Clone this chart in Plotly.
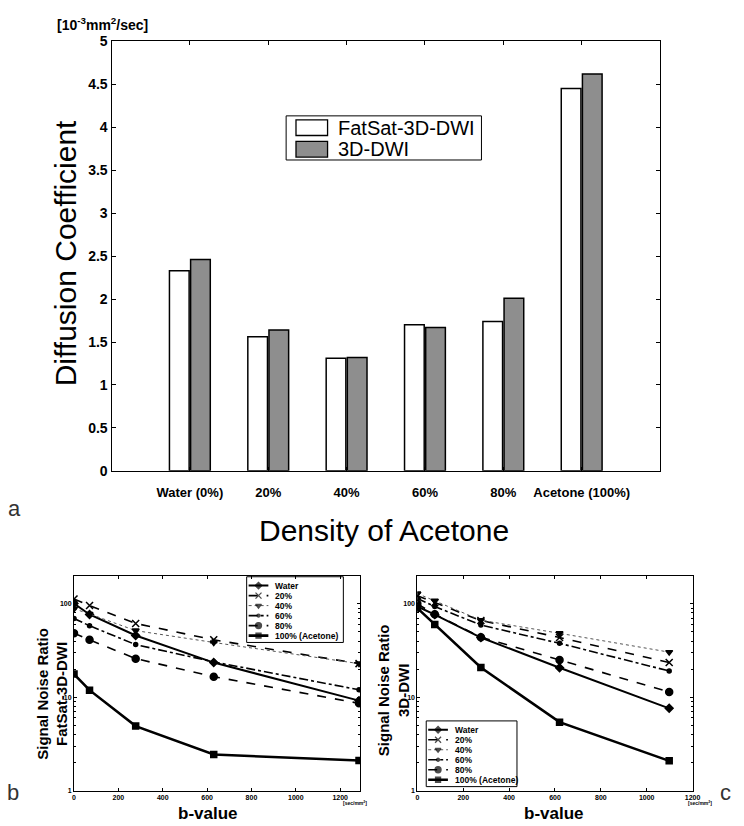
import plotly.graph_objects as go

# ---------------- data ----------------
categories = ["Water (0%)", "20%", "40%", "60%", "80%", "Acetone (100%)"]
fatsat_dc = [2.33, 1.56, 1.31, 1.70, 1.74, 4.45]
dwi_dc = [2.46, 1.64, 1.32, 1.67, 2.01, 4.62]
bar_names = ["FatSat-3D-DWI", "3D-DWI"]

b_values_fatsat = [0, 70, 278, 630, 1285]
b_values_dwi = [0, 76, 277, 620, 1098]
series_names = ["Water", "20%", "40%", "60%", "80%", "100% (Acetone)"]

snr_fatsat_water = [101, 77, 45.8, 23.5, 9.2]
snr_fatsat_20 = [113, 96, 61.7, 41.2, 22.9]
snr_fatsat_40 = [88.6, 78, 51.7, 38.6, 22.9]
snr_fatsat_60 = [69.6, 58.3, 36.6, 23.9, 12.0]
snr_fatsat_80 = [48.5, 41.2, 25.9, 16.6, 8.6]
snr_fatsat_100 = [17.7, 11.9, 4.9, 2.43, 2.1]

snr_dwi_water = [93.8, 76.7, 43.6, 20.7, 7.6]
snr_dwi_20 = [122, 103, 66.3, 43.6, 23.5]
snr_dwi_40 = [129, 108, 66.8, 48.4, 30.4]
snr_dwi_60 = [114, 93.8, 59.3, 37.8, 19.1]
snr_dwi_80 = [100, 77.3, 44.0, 25.1, 11.4]
snr_dwi_100 = [90, 60.2, 20.8, 5.4, 2.08]

W, H = 744, 826
def px_x(p): return p / W
def px_y(p): return 1 - p / H

FONT = "Liberation Sans, Arial, sans-serif"
BAR_COLORS = ["white", "#8e8e8e"]

fig = go.Figure()

# ---------------- panel a ----------------
for name, vals, col in zip(bar_names, [fatsat_dc, dwi_dc], BAR_COLORS):
    fig.add_trace(go.Bar(x=categories, y=vals, name=name, showlegend=False,
                         marker=dict(color=col, line=dict(color="black", width=1.5)),
                         xaxis="x", yaxis="y"))

# ---------------- panels b, c ----------------
styles = [
    dict(dash="solid", width=2, color="black", symbol="diamond", size=6),
    dict(dash="dash", width=1.6, color="black", symbol="x-thin-open", size=7),
    dict(dash="dot", width=1, color="#555555", symbol="triangle-down", size=6),
    dict(dash="dashdot", width=1.6, color="black", symbol="circle", size=4),
    dict(dash="dash", width=1.6, color="black", symbol="circle", size=7),
    dict(dash="solid", width=2.6, color="black", symbol="square", size=6),
]
fatsat_sets = [snr_fatsat_water, snr_fatsat_20, snr_fatsat_40, snr_fatsat_60, snr_fatsat_80, snr_fatsat_100]
dwi_sets = [snr_dwi_water, snr_dwi_20, snr_dwi_40, snr_dwi_60, snr_dwi_80, snr_dwi_100]

def add_series(bvals, sets, xa, ya):
    for name, ys, st in zip(series_names, sets, styles):
        fig.add_trace(go.Scatter(x=bvals, y=ys, name=name, mode="lines+markers", showlegend=False,
                                 line=dict(color=st["color"], width=st["width"], dash=st["dash"]),
                                 marker=dict(symbol=st["symbol"], size=st["size"], color="black",
                                             line=dict(color="black", width=1.5)),
                                 xaxis=xa, yaxis=ya))

add_series(b_values_fatsat, fatsat_sets, "x2", "y2")
add_series(b_values_dwi, dwi_sets, "x3", "y3")

# ---------------- compact legends for b, c (hidden helper axes) ----------------
LEG_ROW0, LEG_ROW_H = 9, 10.2
LEG_LINE = (2, 12, 22)
LEG_TEXT_X = 27
annotations = []

def add_legend(xa, ya):
    for i, (name, st) in enumerate(zip(series_names, styles)):
        row = LEG_ROW0 + i * LEG_ROW_H
        fig.add_trace(go.Scatter(
            x=list(LEG_LINE), y=[row] * 3, mode="lines+markers", showlegend=False, hoverinfo="skip",
            line=dict(color=st["color"], width=st["width"], dash=st["dash"]),
            marker=dict(symbol=st["symbol"], size=[0, st["size"] - 1, 0], color="black",
                        line=dict(color="black", width=[0, 1.3, 0])),
            xaxis=xa, yaxis=ya))
        annotations.append(dict(text=name, x=LEG_TEXT_X, y=row, xref=xa, yref=ya,
                                xanchor="left", yanchor="middle", showarrow=False,
                                font=dict(family=FONT, size=8.5, weight="bold")))

add_legend("x4", "y4")
add_legend("x5", "y5")

tickfont_small = dict(family=FONT, size=7, color="black", weight="bold")
minor_log = dict(ticks="inside", ticklen=2, tickcolor="black",
                 tickvals=[2, 3, 4, 5, 6, 7, 8, 9, 20, 30, 40, 50, 60, 70, 80, 90, 200])

def lin_axis(dom, anchor, xmax):
    return dict(domain=dom, anchor=anchor, range=[0, xmax], tickvals=[0, 200, 400, 600, 800, 1000, 1200],
                showline=True, linecolor="black", linewidth=1, mirror="ticks",
                ticks="inside", ticklen=3, tickcolor="black", showgrid=False, zeroline=False,
                tickfont=tickfont_small, ticklabelstandoff=0)

def log_axis(dom, anchor):
    return dict(domain=dom, anchor=anchor, type="log", range=[0, 2.301],
                tickvals=[1, 10, 100], ticktext=["1", "10", "100"],
                showline=True, linecolor="black", linewidth=1, mirror="ticks",
                ticks="inside", ticklen=3, tickcolor="black", showgrid=False,
                tickfont=tickfont_small, minor=minor_log)

LEGB = (248, 346, 580, 647)
LEGC = (430, 522, 727, 794)
PB_BOTTOM, PB_TOP = 798, 579

def helper_axes(box, xa_name, ya_name):
    x0, x1, y0, y1 = box
    xa = dict(domain=[px_x(x0), px_x(x1)], range=[0, x1 - x0], visible=False, fixedrange=True, anchor=ya_name)
    ya = dict(domain=[px_y(y1), px_y(y0)], range=[y1 - y0, 0], visible=False, fixedrange=True, anchor=xa_name)
    return xa, ya

x4, y4 = helper_axes(LEGB, "x4", "y4")
x5, y5 = helper_axes(LEGC, "x5", "y5")

fig.update_layout(
    width=W, height=H, margin=dict(l=0, r=0, t=0, b=0),
    paper_bgcolor="white", plot_bgcolor="rgba(0,0,0,0)",
    barmode="group", bargap=0.46, bargroupgap=0.07,
    font=dict(family=FONT, color="black"),
    showlegend=False,
    xaxis=dict(domain=[px_x(111), px_x(667)], anchor="y", type="category",
               range=[-1, 6], showline=True, linecolor="black", linewidth=1.2,
               mirror="ticks", ticks="inside", ticklen=4, tickcolor="black",
               ticklabelstandoff=9,
               tickfont=dict(family=FONT, size=13, weight="bold")),
    yaxis=dict(domain=[px_y(472), px_y(34)], anchor="x", range=[0, 5], dtick=0.5,
               showline=True, linecolor="black", linewidth=1.2, mirror="ticks",
               ticks="inside", ticklen=4, tickcolor="black", showgrid=False, zeroline=False,
               tickfont=dict(family=FONT, size=14, weight="bold")),
    xaxis2=lin_axis([px_x(73), px_x(363)], "y2", 1290),
    yaxis2=log_axis([px_y(PB_BOTTOM), px_y(PB_TOP)], "x2"),
    xaxis3=lin_axis([px_x(421), px_x(700)], "y3", 1200),
    yaxis3=log_axis([px_y(PB_BOTTOM), px_y(PB_TOP)], "x3"),
    xaxis4=x4, yaxis4=y4, xaxis5=x5, yaxis5=y5,
)

shapes = [
    dict(type="rect", xref="x4 domain", yref="y4 domain", x0=0, x1=1, y0=0, y1=1,
         fillcolor="white", line=dict(color="black", width=1), layer="below"),
    dict(type="rect", xref="x5 domain", yref="y5 domain", x0=0, x1=1, y0=0, y1=1,
         fillcolor="white", line=dict(color="black", width=1), layer="below"),
    dict(type="rect", xref="paper", yref="paper", x0=px_x(288), x1=px_x(486), y0=px_y(155), y1=px_y(110),
         fillcolor="white", line=dict(color="black", width=1)),
]
for i, (name, col) in enumerate(zip(bar_names, BAR_COLORS)):
    top = 114 + i * 22
    shapes.append(dict(type="rect", xref="paper", yref="paper", x0=px_x(298), x1=px_x(330),
                       y0=px_y(top + 16), y1=px_y(top), fillcolor=col, line=dict(color="black", width=1.3)))
    annotations.append(dict(text=name, x=px_x(339), y=px_y(top + 8), xref="paper", yref="paper",
                            xanchor="left", yanchor="middle", showarrow=False,
                            font=dict(family=FONT, size=20)))

def note(text, x, y, size, angle=0, color="black", weight="normal"):
    return dict(text=text, x=px_x(x), y=px_y(y), xref="paper", yref="paper", textangle=angle,
                xanchor="center", yanchor="middle", showarrow=False,
                font=dict(family=FONT, size=size, color=color, weight=weight))

annotations += [
    note("[10<sup>-3</sup>mm<sup>2</sup>/sec]", 102, 16, 14, weight="bold"),
    note("Diffusion Coefficient", 64, 250, 30, angle=-90),
    note("Density of Acetone", 387, 533, 30),
    note("Signal Noise Ratio<br>FatSat-3D-DWI", 51, 699, 15, angle=-90, weight="bold"),
    note("Signal Noise Ratio<br>3D-DWI", 397, 696, 15, angle=-90, weight="bold"),
    note("b-value", 209, 821, 17, weight="bold"),
    note("b-value", 560, 821, 17, weight="bold"),
    note("a", 13, 510, 22, color="#333"),
    note("b", 11, 800, 22, color="#333"),
    note("c", 733, 800, 22, color="#333"),
    note("[sec/mm<sup>2</sup>]", 358, 811, 5, weight="bold"),
    note("[sec/mm<sup>2</sup>]", 708, 811, 5, weight="bold"),
]
fig.update_layout(shapes=shapes, annotations=annotations)

fig.write_html("out.html")
